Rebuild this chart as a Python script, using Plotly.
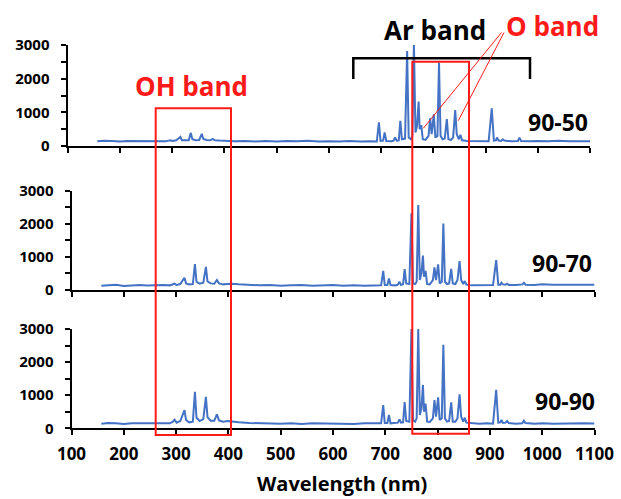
import plotly.graph_objects as go

# ---------------- data ----------------
wavelength = [157, 170, 185, 200, 215, 230, 245, 260, 275, 288, 294, 297, 301, 308, 313, 316, 319, 325,
              332, 336, 339, 345, 352, 357, 360, 366, 373, 378, 382, 390, 398, 405, 420, 440, 460, 480,
              500, 520, 540, 560, 580, 600, 620, 640, 660, 680, 692, 696, 699, 704, 707, 710, 720, 724,
              727, 730, 734, 737, 740, 746, 750, 753, 757, 760, 763, 766, 769, 772, 774, 777, 780, 785,
              791, 794, 797, 801, 804, 808, 811, 814, 818, 822, 826, 829, 834, 838, 842, 845, 849, 852,
              855, 865, 880, 895, 906, 912, 916, 920, 922, 925, 930, 933, 936, 950, 962, 965, 968, 985,
              1000, 1020, 1040, 1060, 1080, 1100]

counts_90_50 = [140, 155, 150, 130, 145, 140, 150, 135, 145, 140, 160, 170, 150, 170, 230, 270, 170, 160,
                170, 390, 200, 170, 180, 360, 210, 180, 170, 210, 170, 160, 150, 160, 140, 150, 130, 145,
                130, 150, 140, 155, 130, 140, 130, 145, 130, 140, 135, 700, 150, 160, 400, 150, 140, 160,
                250, 160, 170, 750, 200, 220, 2820, 250, 200, 300, 3050, 400, 600, 1320, 500, 620, 200, 180,
                300, 820, 350, 940, 250, 300, 2480, 300, 200, 220, 800, 200, 180, 250, 1070, 350, 200, 330,
                170, 150, 140, 150, 140, 1120, 160, 170, 250, 160, 150, 200, 160, 140, 150, 250, 150, 140,
                150, 140, 155, 140, 150, 140]

counts_90_70 = [130, 150, 155, 120, 140, 150, 135, 145, 150, 140, 170, 190, 150, 180, 300, 370, 200, 170,
                180, 780, 250, 190, 220, 700, 260, 200, 190, 300, 200, 170, 180, 190, 170, 150, 140, 150,
                130, 140, 150, 130, 140, 150, 130, 145, 130, 140, 140, 575, 150, 150, 350, 150, 140, 160,
                250, 150, 170, 630, 200, 180, 2320, 200, 180, 250, 2570, 300, 500, 1040, 400, 575, 180, 170,
                300, 685, 300, 775, 200, 250, 2010, 250, 180, 200, 635, 200, 180, 300, 875, 300, 180, 270,
                160, 140, 150, 140, 150, 905, 160, 160, 220, 170, 160, 190, 150, 150, 170, 220, 160, 150,
                170, 160, 150, 160, 155, 160]

counts_90_90 = [140, 160, 150, 130, 150, 145, 160, 140, 150, 150, 200, 260, 170, 220, 420, 550, 250, 180,
                200, 1100, 320, 220, 280, 950, 340, 230, 230, 420, 240, 200, 220, 200, 180, 160, 150, 160,
                140, 150, 130, 150, 140, 150, 140, 130, 150, 140, 150, 700, 160, 160, 400, 150, 150, 170,
                270, 170, 180, 790, 220, 200, 3000, 250, 200, 300, 3000, 400, 600, 1310, 500, 750, 200, 190,
                300, 850, 350, 935, 250, 300, 2520, 300, 200, 220, 785, 200, 200, 300, 1025, 350, 200, 320,
                170, 150, 140, 150, 140, 1160, 170, 180, 250, 160, 170, 220, 160, 140, 150, 230, 160, 140,
                150, 140, 150, 140, 150, 145]

panel_labels = ["90-50", "90-70", "90-90"]
x_tick_values = [100, 200, 300, 400, 500, 600, 700, 800, 900, 1000, 1100]
y_tick_values = [0, 500, 1000, 1500, 2000, 2500, 3000]
y_tick_labels = ["0", "", "1000", "", "2000", "", "3000"]
x_title = "Wavelength (nm)"
band_labels = ["OH band", "Ar band", "O band"]

# ---------------- layout helpers ----------------
W, H = 621, 499


def fx(p):
    return p / W


def fy(p):
    return 1 - p / H


BLUE = "#4472C4"
RED = "#FF1A1A"
FONT = "Open Sans"

# pixel geometry of each panel: (left, right, top(3000), bottom(0))
panel_px = [(67.5, 590, 45, 146), (71.5, 594.5, 190.7, 290), (71.5, 594.5, 329, 428.3)]
series = [counts_90_50, counts_90_70, counts_90_90]
label_pos = [(558, 122), (562, 263), (565, 401)]

fig = go.Figure()
layout = dict(
    width=W, height=H, margin=dict(l=0, r=0, t=0, b=0),
    paper_bgcolor="white", plot_bgcolor="white", showlegend=False,
)

for i, (ys, (l, r, t, b)) in enumerate(zip(series, panel_px)):
    n = "" if i == 0 else str(i + 1)
    fig.add_trace(go.Scatter(x=wavelength, y=ys, mode="lines",
                             line=dict(color=BLUE, width=2),
                             xaxis="x" + n, yaxis="y" + n, hoverinfo="skip"))
    last = i == 2
    layout["xaxis" + n] = dict(
        domain=[fx(l), fx(r)], anchor="y" + n, range=[100, 1100],
        tickvals=x_tick_values, showticklabels=last,
        ticks="outside", ticklen=5, tickwidth=1.5, tickcolor="black",
        showline=True, linewidth=2, linecolor="black",
        showgrid=False, zeroline=False, automargin=False,
        tickfont=dict(family=FONT, size=17, color="black", weight="bold"),
        ticklabelstandoff=4,
    )
    layout["yaxis" + n] = dict(
        domain=[fy(b), fy(t)], anchor="x" + n, range=[0, 3000],
        tickvals=y_tick_values, ticktext=y_tick_labels,
        ticks="outside", ticklen=5, tickwidth=1.5, tickcolor="black",
        showline=True, linewidth=2, linecolor="black",
        showgrid=False, zeroline=False, automargin=False,
        tickfont=dict(family=FONT, size=15, color="black", weight="bold"),
        ticklabelstandoff=8,
    )

fig.update_layout(**layout)

annotations = []
for lab, (cx, cy) in zip(panel_labels, label_pos):
    annotations.append(dict(text=lab, x=fx(cx), y=fy(cy), xref="paper", yref="paper",
                            xanchor="center", yanchor="middle", showarrow=False,
                            font=dict(family=FONT, size=23, color="black", weight="bold")))

annotations.append(dict(text=band_labels[0], x=fx(191), y=fy(86), xref="paper", yref="paper",
                        xanchor="center", yanchor="middle", showarrow=False,
                        font=dict(family=FONT, size=26, color=RED, weight="bold")))
annotations.append(dict(text=band_labels[1], x=fx(435), y=fy(30), xref="paper", yref="paper",
                        xanchor="center", yanchor="middle", showarrow=False,
                        font=dict(family=FONT, size=26, color="black", weight="bold")))
annotations.append(dict(text=band_labels[2], x=fx(552), y=fy(26), xref="paper", yref="paper",
                        xanchor="center", yanchor="middle", showarrow=False,
                        font=dict(family=FONT, size=26, color=RED, weight="bold")))
annotations.append(dict(text=x_title, x=fx(342), y=fy(499), xref="paper", yref="paper",
                        xanchor="center", yanchor="bottom", showarrow=False,
                        font=dict(family=FONT, size=20, color="black", weight="bold")))

shapes = [
    # OH band box
    dict(type="rect", xref="paper", yref="paper", x0=fx(155.7), x1=fx(231), y0=fy(435), y1=fy(108.3),
         line=dict(color=RED, width=2)),
    # O band box
    dict(type="rect", xref="paper", yref="paper", x0=fx(412.3), x1=fx(469), y0=fy(433.7), y1=fy(61.7),
         line=dict(color=RED, width=2)),
    # Ar band bracket
    dict(type="path", xref="paper", yref="paper",
         path=f"M {fx(353.3)},{fy(79)} L {fx(353.3)},{fy(58.3)} L {fx(530)},{fy(58.3)} L {fx(530)},{fy(79)}",
         line=dict(color="black", width=2.5)),
    # O band pointers
    dict(type="line", xref="paper", yref="paper", x0=fx(501.5), y0=fy(32.5), x1=fx(423.3), y1=fy(128.3),
         line=dict(color=RED, width=1)),
    dict(type="line", xref="paper", yref="paper", x0=fx(504), y0=fy(32.5), x1=fx(458.3), y1=fy(120.7),
         line=dict(color=RED, width=1)),
]

fig.update_layout(annotations=annotations, shapes=shapes)
fig.write_html("out.html")
